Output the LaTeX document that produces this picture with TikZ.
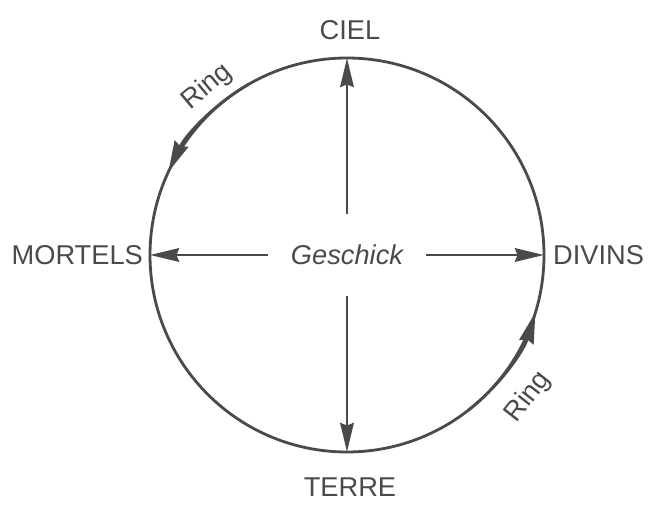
\documentclass[tikz,border=0pt]{standalone}
\usepackage{fontspec}
\setmainfont{Liberation Sans}
\usetikzlibrary{arrows.meta}
\definecolor{ink}{HTML}{4A4A4A}

\begin{document}
\begin{tikzpicture}[
  line width=1.6pt, draw=ink,
  lbl/.style={font=\fontsize{15.5}{18}\selectfont, text=ink, inner sep=1pt},
  spoke/.style={-{Stealth[length=0.58cm,width=0.27cm,inset=0.05cm]}},
  ringarrow/.style={-{Stealth[length=0.62cm,width=0.3cm,inset=0.06cm]}}
]
\useasboundingbox (0,0) rectangle (13.44,10.24);
% the ring
\coordinate (o) at (6.94,5.14);
\draw (o) circle (3.94);
\coordinate (top) at (6.94,9.08);
\coordinate (bot) at (6.94,1.20);
\coordinate (lft) at (3.00,5.14);
\coordinate (rgt) at (10.88,5.14);
\draw[ringarrow] (o) ++(120:3.94) arc (120:155:3.94);
\draw[ringarrow] (o) ++(-52:3.94) arc (-52:-17:3.94);
% the four
\node[lbl] (ciel) at (7.0,9.64) {CIEL};
\node[lbl] (terre) at (7.0,0.50) {TERRE};
\node[lbl,anchor=east] (mortels) at (2.92,5.14) {MORTELS};
\node[lbl,anchor=west] (divins) at (11.0,5.14) {DIVINS};
\node[lbl,rotate=40] (ring1) at (4.14,8.5) {Ring};
\node[lbl,rotate=52] (ring2) at (10.56,2.3) {Ring};
% centre and spokes
\node[lbl,minimum width=3.1cm,minimum height=1.6cm] (gesch) at (o) {\itshape Geschick};
\draw[spoke] (gesch.north) -- (top);
\draw[spoke] (gesch.south) -- (bot);
\draw[spoke] (gesch.west) -- (lft);
\draw[spoke] (gesch.east) -- (rgt);
\end{tikzpicture}
\end{document}
